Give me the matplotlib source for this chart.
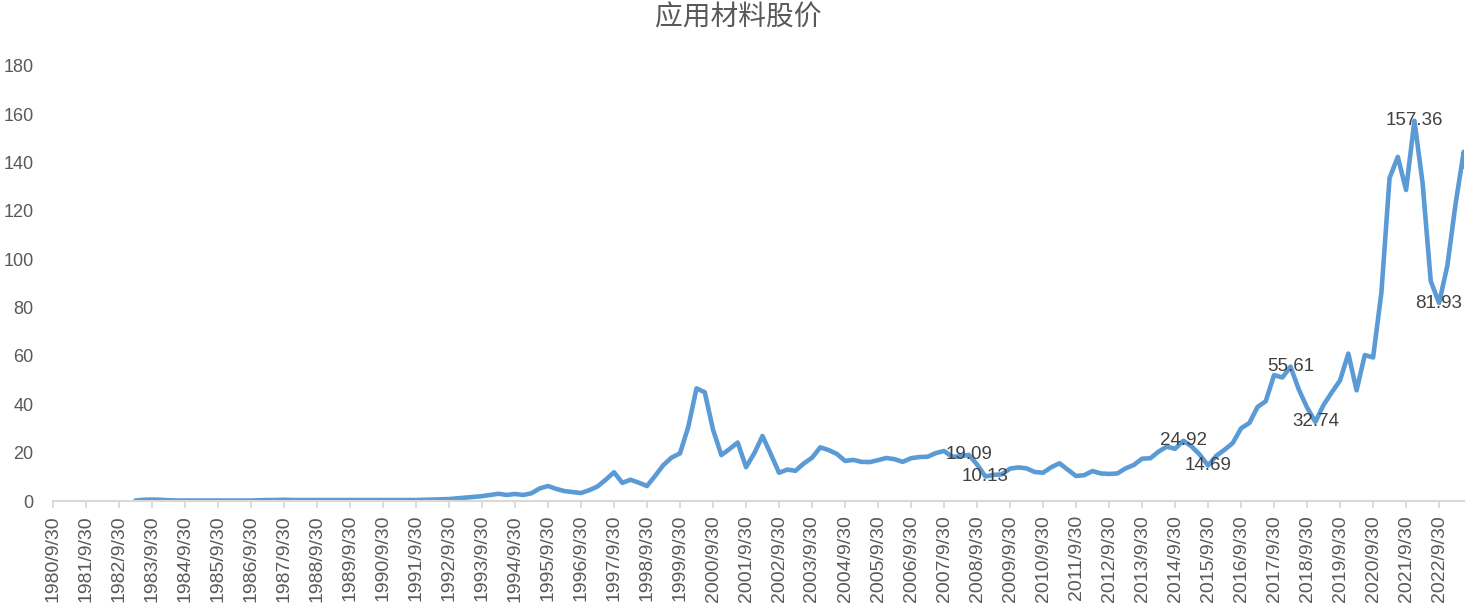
import matplotlib.pyplot as plt
import numpy as np
import pandas as pd

plt.rcParams['font.family'] = ['Liberation Sans', 'Noto Sans CJK SC', 'DejaVu Sans']

title = '应用材料股价'

# quarter-end closes, 1983Q1 .. 2023Q2
prices = [
    0.2, 0.5, 0.6, 0.5,        # 1983
    0.3, 0.2, 0.2, 0.2,        # 1984
    0.2, 0.2, 0.2, 0.2,        # 1985
    0.2, 0.2, 0.2, 0.3,        # 1986
    0.4, 0.4, 0.5, 0.4,        # 1987
    0.4, 0.4, 0.4, 0.4,        # 1988
    0.4, 0.4, 0.4, 0.4,        # 1989
    0.4, 0.4, 0.4, 0.4,        # 1990
    0.4, 0.4, 0.4, 0.5,        # 1991
    0.6, 0.7, 0.8, 1.1,        # 1992
    1.4, 1.7, 2.0, 2.5,        # 1993
    3.0, 2.5, 2.9, 2.5,        # 1994
    3.2, 5.2, 6.2, 5.0,        # 1995
    4.1, 3.7, 3.3, 4.5,        # 1996
    6.0, 8.8, 11.9, 7.5,       # 1997
    8.8, 7.6, 6.2, 10.5,       # 1998
    14.9, 18.0, 19.7, 30.7,    # 1999
    46.6, 45.0, 29.5, 19.0,    # 2000
    21.5, 24.2, 14.0, 19.8,    # 2001
    26.9, 19.5, 11.7, 13.0,    # 2002
    12.5, 15.5, 17.9, 22.2,    # 2003
    21.1, 19.5, 16.6, 17.0,    # 2004
    16.2, 16.1, 16.9, 17.8,    # 2005
    17.3, 16.2, 17.7, 18.2,    # 2006
    18.3, 19.8, 20.7, 18.3,    # 2007
    18.5, 19.09, 15.1, 10.13,  # 2008
    10.8, 11.0, 13.4, 13.9,    # 2009
    13.5, 12.0, 11.7, 14.0,    # 2010
    15.6, 13.0, 10.35, 10.7,   # 2011
    12.4, 11.4, 11.2, 11.4,    # 2012
    13.5, 14.9, 17.5, 17.7,    # 2013
    20.4, 22.5, 21.6, 24.92,   # 2014
    22.6, 19.2, 14.69, 18.7,   # 2015
    21.2, 24.0, 30.1, 32.3,    # 2016
    38.9, 41.3, 52.1, 51.1,    # 2017
    55.61, 46.2, 38.7, 32.74,  # 2018
    39.7, 44.9, 49.9, 61.0,    # 2019
    45.8, 60.4, 59.4, 86.3,    # 2020
    133.6, 142.4, 128.7, 157.36,  # 2021
    131.8, 91.0, 81.93, 97.4,  # 2022
    122.8, 144.5,              # 2023
]
last_date = '2023-07-03'
last_price = 138.3

labelled = [19.09, 10.13, 24.92, 14.69, 55.61, 32.74, 157.36, 81.93]

tick_years = list(range(1980, 2023))
tick_labels = [f'{y}/9/30' for y in tick_years]

dates = list(pd.period_range('1983Q1', '2023Q2', freq='Q').to_timestamp(how='end').normalize())
dates.append(pd.Timestamp(last_date))
values = prices + [last_price]

fig = plt.figure(figsize=(14.77, 6.15), dpi=100)
ax = fig.add_axes([53 / 1477, 1 - 501 / 615, (1464 - 53) / 1477, (501 - 66) / 615])

ax.plot(dates, values, color='#5B9BD5', linewidth=3.3, solid_joinstyle='round',
        solid_capstyle='round')

for d, v in zip(dates, values):
    if v in labelled:
        ax.text(d, v, f'{v:.2f}', ha='center', va='center', fontsize=13.5,
                color='#404040')

ax.set_xlim(pd.Timestamp('1980-09-30'), pd.Timestamp(last_date))
ax.set_ylim(0, 180)
ax.set_yticks(np.arange(0, 181, 20))
ax.set_xticks([pd.Timestamp(y, 9, 30) for y in tick_years])
ax.set_xticklabels(tick_labels, rotation=90, fontsize=14, color='#595959')
ax.tick_params(axis='y', length=0, pad=14, labelsize=13, labelcolor='#595959')
ax.tick_params(axis='x', length=5, width=1.3, color='#d9d9d9', pad=5)

for s in ['top', 'right', 'left']:
    ax.spines[s].set_visible(False)
ax.spines['bottom'].set_color('#d9d9d9')
ax.spines['bottom'].set_linewidth(1.5)

fig.text(0.5, 1 - 18 / 615, title, ha='center', va='center', fontsize=20,
         color='#595959')

fig.savefig('out.png', dpi=100)
